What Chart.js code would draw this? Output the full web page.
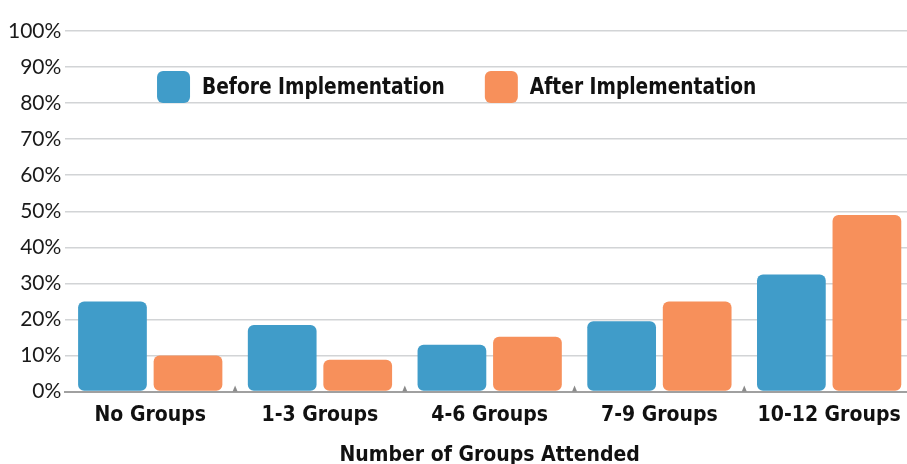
<!DOCTYPE html>
<html lang="en">
<head>
    <meta charset="UTF-8">
    <title>Groups Attended</title>
    <script src="https://cdn.jsdelivr.net/npm/chart.js"></script>
    <style>
        html, body { margin: 0; padding: 0; background: #ffffff; overflow: hidden; }
        #wrap { width: 914px; height: 468px; }
    </style>
</head>
<body>
    <div id="wrap">
        <canvas id="groupsChart" width="914" height="468"></canvas>
    </div>

    <script>
        // Data (percent of participants)
        const categories = ["No Groups", "1-3 Groups", "4-6 Groups", "7-9 Groups", "10-12 Groups"];
        const beforeValues = [25, 18.5, 13, 19.5, 32.5];
        const afterValues = [10, 8.8, 15.2, 25, 49];
        const seriesNames = ["Before Implementation", "After Implementation"];
        const yTicks = [0, 10, 20, 30, 40, 50, 60, 70, 80, 90, 100];

        const blue = "#409cc9";
        const orange = "#f7905b";
        const labelFont = "'DejaVu Sans Condensed', 'DejaVu Sans', sans-serif";

        // legend drawn inside the plot, plus the little tick marks between groups
        const innerLegend = {
            id: "innerLegend",
            afterDraw(chart) {
                const ctx = chart.ctx;
                const area = chart.chartArea;
                const xs = chart.scales.x;
                ctx.save();

                // small triangles on the axis at group boundaries
                ctx.fillStyle = "#8a8a8a";
                for (let i = 1; i < categories.length; i++) {
                    const bx = (xs.getPixelForValue(i - 1) + xs.getPixelForValue(i)) / 2;
                    ctx.beginPath();
                    ctx.moveTo(bx - 2.5, area.bottom);
                    ctx.lineTo(bx, area.bottom - 6);
                    ctx.lineTo(bx + 2.5, area.bottom);
                    ctx.closePath();
                    ctx.fill();
                }

                const boxW = 33, boxH = 32, gapText = 12, gapItem = 40, squeeze = 0.9;
                ctx.font = "bold 23px " + labelFont;
                const items = chart.data.datasets.map(ds => ({
                    text: ds.label, color: ds.backgroundColor,
                    tw: ctx.measureText(ds.label).width * squeeze
                }));
                const total = items.reduce((s, it) => s + boxW + gapText + it.tw, 0) + gapItem * (items.length - 1);
                let x = (area.left + area.right) / 2 - total / 2 - 33;
                const cy = area.top + 56;
                items.forEach(it => {
                    ctx.fillStyle = it.color;
                    ctx.beginPath();
                    ctx.roundRect(x, cy - boxH / 2, boxW, boxH, 6);
                    ctx.fill();
                    ctx.save();
                    ctx.translate(x + boxW + gapText, cy + 1);
                    ctx.scale(squeeze, 1);
                    ctx.fillStyle = "#111111";
                    ctx.textBaseline = "middle";
                    ctx.textAlign = "left";
                    ctx.fillText(it.text, 0, 0);
                    ctx.restore();
                    x += boxW + gapText + it.tw + gapItem;
                });
                ctx.restore();
            }
        };

        new Chart(document.getElementById("groupsChart"), {
            type: "bar",
            data: {
                labels: categories,
                datasets: [
                    {
                        label: seriesNames[0],
                        data: beforeValues,
                        backgroundColor: blue,
                        borderRadius: 6,
                        borderSkipped: false
                    },
                    {
                        label: seriesNames[1],
                        data: afterValues,
                        backgroundColor: orange,
                        borderRadius: 6,
                        borderSkipped: false
                    }
                ]
            },
            options: {
                responsive: false,
                animation: false,
                categoryPercentage: 0.89,
                barPercentage: 0.91,
                layout: { padding: { left: 4, top: 31, right: 0, bottom: 0 } },
                plugins: {
                    legend: { display: false },
                    tooltip: { enabled: false }
                },
                scales: {
                    y: {
                        min: 0,
                        max: 100,
                        afterBuildTicks(scale) {
                            scale.ticks = yTicks.map(v => ({ value: v }));
                        },
                        ticks: {
                            padding: 4,
                            color: "#1a1a1a",
                            font: { family: "Lato, 'Liberation Sans', sans-serif", size: 21, weight: 400 },
                            callback: v => v + "%"
                        },
                        grid: { color: "#d2d4d6", lineWidth: 1.5, drawTicks: false },
                        border: { display: false }
                    },
                    x: {
                        ticks: {
                            padding: 3,
                            color: "#111111",
                            font: { family: labelFont, size: 21, weight: "bold" }
                        },
                        grid: { display: false },
                        border: { display: true, color: "#a0a0a0", width: 2 },
                        title: {
                            display: true,
                            text: "Number of Groups Attended",
                            color: "#111111",
                            padding: { top: 12, bottom: 0 },
                            font: { family: labelFont, size: 21, weight: "bold" }
                        }
                    }
                }
            },
            plugins: [innerLegend]
        });
    </script>
</body>
</html>
